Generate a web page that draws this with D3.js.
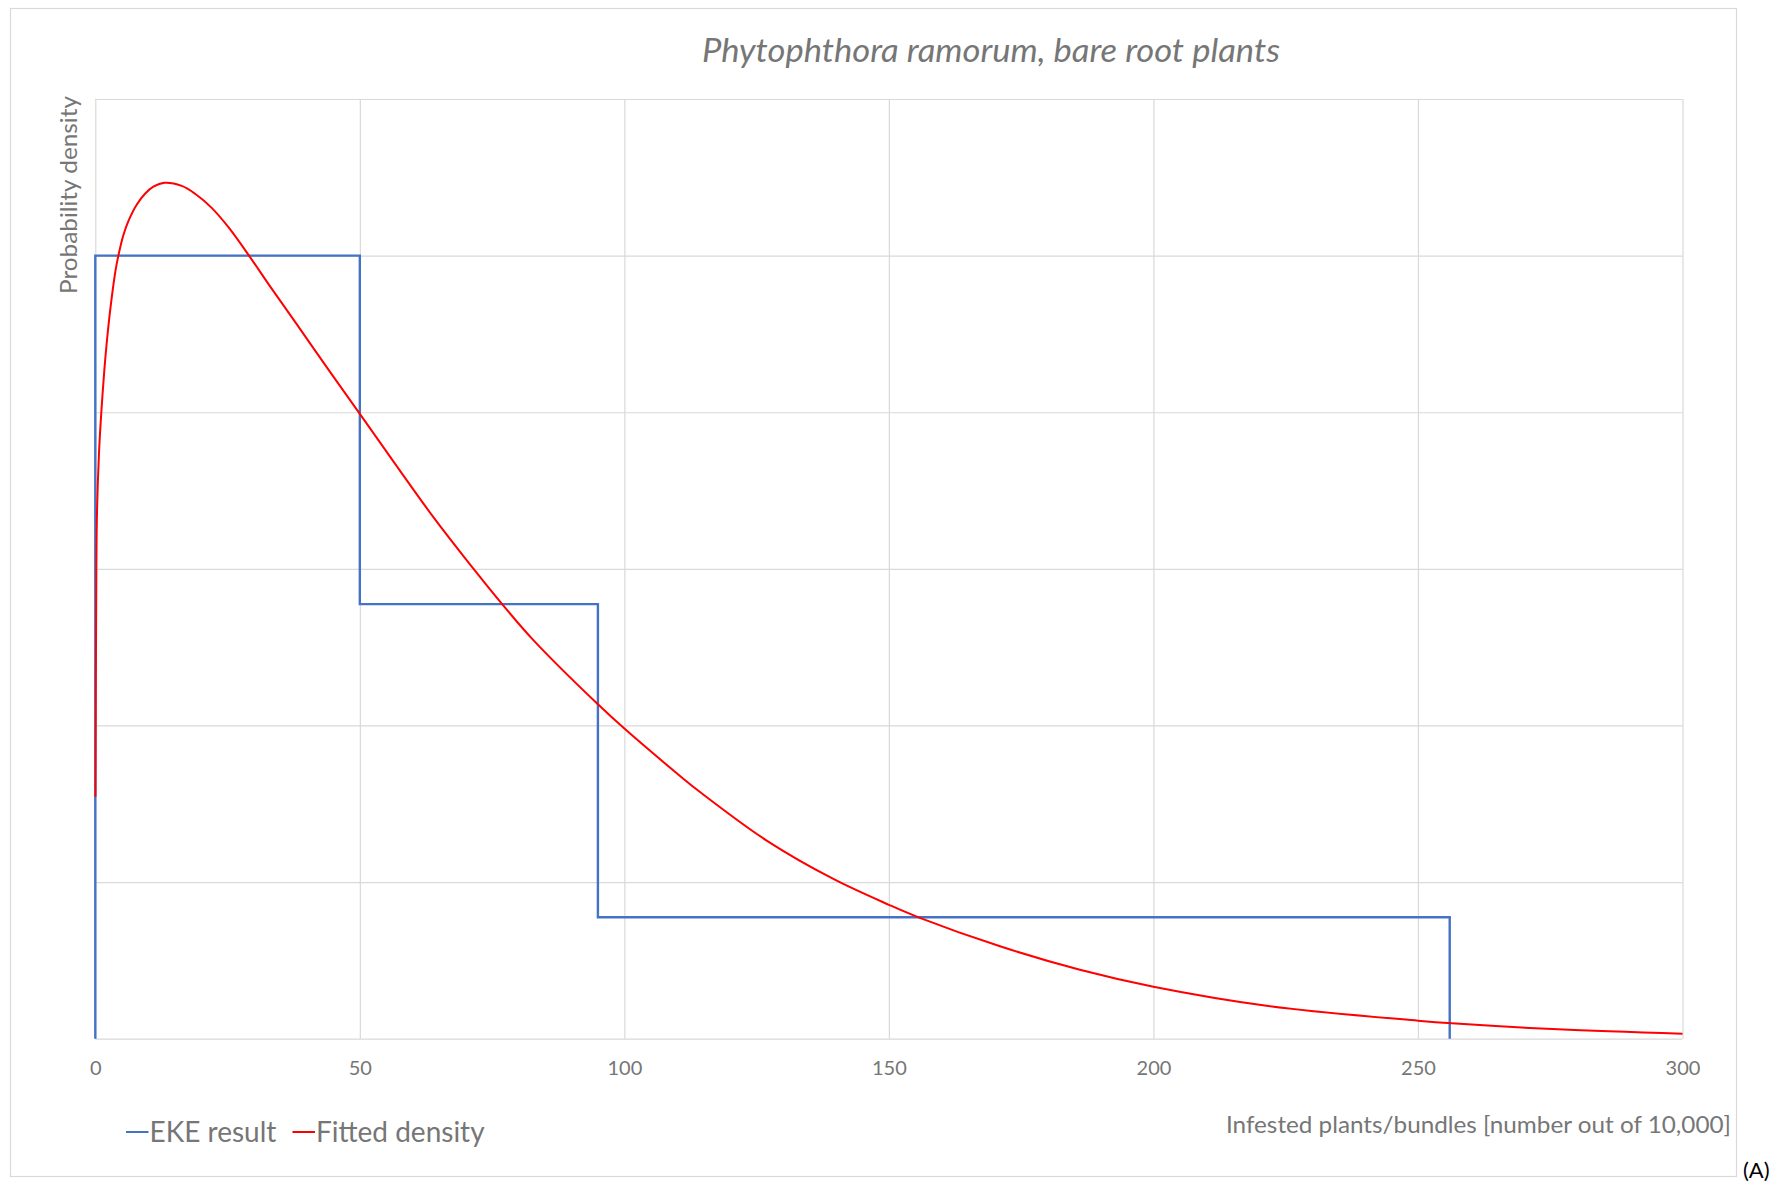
<!DOCTYPE html>
<html>
<head>
<meta charset="utf-8">
<script src="https://cdn.jsdelivr.net/npm/d3@7"></script>
<style>
  body { margin: 0; background: #fff; }
  svg { display: block; font-family: Lato, "Open Sans", sans-serif; }
  .grid line { stroke: #d9d9d9; stroke-width: 1.2; }
  .grid .domain { display: none; }
  .xlab text { fill: #767676; font-size: 20px; }
</style>
</head>
<body>
<div id="chart"></div>
<script>
// EKE result: bin edges and density of each bin
var binEdges = [0, 50, 95, 256];
var binDensity = [0.01, 0.00555, 0.00155];

// fitted density
var fitX = [0.03, 0.2, 0.32, 0.7, 1.08, 1.71, 2.28, 2.97, 3.85, 4.36, 5.3, 6.25, 7.82, 9.4, 10.98, 13.06, 16.34,
  18.86, 22, 25.2, 28.95, 32.7, 37.8, 44.1, 50, 63.9, 71.5, 76.9, 82.8, 95, 100, 110.8, 114.3, 126.9, 139.5, 150,
  155.6, 171, 186.1, 200, 221.7, 250, 256.4, 276.5, 300];
var fitY = [0.00309, 0.0060, 0.00672, 0.00748, 0.00794, 0.00854, 0.00897, 0.00939, 0.00982, 0.0100, 0.01026,
  0.01044, 0.01065, 0.01079, 0.01088, 0.01093, 0.01089, 0.01079, 0.01061, 0.01036, 0.01001, 0.00964, 0.00915,
  0.00854, 0.00798, 0.00666, 0.0060, 0.00555, 0.00509, 0.00427, 0.00396, 0.00334, 0.00315, 0.00253, 0.00204,
  0.00171, 0.00155, 0.00118, 0.00088, 0.000664, 0.000418, 0.00023, 0.000196, 0.00012, 0.000064];

var xTicks = [0, 50, 100, 150, 200, 250, 300];
var yTicks = [0, 0.002, 0.004, 0.006, 0.008, 0.01, 0.012];

var W = 1778, H = 1185;
var margin = { top: 99, left: 95.3, right: W - 1682.5, bottom: H - 1038.7 },
  width = W - margin.left - margin.right,
  height = H - margin.top - margin.bottom;

var svg = d3.select("#chart").append("svg")
  .attr("width", W)
  .attr("height", H);

// outer chart border
svg.append("rect")
  .attr("x", 10.5).attr("y", 8.5)
  .attr("width", 1726).attr("height", 1168)
  .attr("fill", "#fff")
  .attr("stroke", "#d9d9d9")
  .attr("stroke-width", 1.2);

var g = svg.append("g")
  .attr("transform", "translate(" + margin.left + "," + margin.top + ")");

var x = d3.scaleLinear().domain([0, 300]).range([0, width]);
var y = d3.scaleLinear().domain([0, 0.012]).range([height, 0]);

// horizontal grid
g.append("g")
  .attr("class", "grid")
  .call(d3.axisLeft(y).tickValues(yTicks).tickSize(-width).tickFormat(""));

// vertical grid + tick labels
var xa = g.append("g")
  .attr("class", "grid xlab")
  .attr("transform", "translate(0," + height + ")")
  .call(d3.axisBottom(x).tickValues(xTicks).tickSize(-height).tickPadding(22));
xa.selectAll("text").attr("font-family", "Lato, sans-serif");

// EKE step line
var steps = [[binEdges[0], 0]];
for (var i = 0; i < binDensity.length; i++) {
  steps.push([binEdges[i], binDensity[i]]);
  steps.push([binEdges[i + 1], binDensity[i]]);
}
steps.push([binEdges[binEdges.length - 1], 0]);

var line = d3.line()
  .x(function(d) { return x(d[0]); })
  .y(function(d) { return y(d[1]); });

g.append("path")
  .datum(steps)
  .attr("fill", "none")
  .attr("stroke", "#4472c4")
  .attr("stroke-width", 2.4)
  .attr("d", line);

// fitted density
var fit = fitX.map(function(v, i) { return [v, fitY[i]]; });
g.append("path")
  .datum(fit)
  .attr("fill", "none")
  .attr("stroke", "#ff0000")
  .attr("stroke-width", 2)
  .attr("d", line.curve(d3.curveCatmullRom.alpha(0.5)));

// title
svg.append("text")
  .text("Phytophthora ramorum, bare root plants")
  .attr("x", 991).attr("y", 61.5)
  .attr("text-anchor", "middle")
  .attr("font-style", "italic")
  .attr("font-size", 32)
  .attr("fill", "#767676")
  .attr("textLength", 578)
  .attr("lengthAdjust", "spacingAndGlyphs");

// axis titles
svg.append("text")
  .text("Probability density")
  .attr("transform", "translate(77,96) rotate(-90)")
  .attr("text-anchor", "end")
  .attr("font-size", 23)
  .attr("fill", "#767676")
  .attr("textLength", 198)
  .attr("lengthAdjust", "spacingAndGlyphs");

svg.append("text")
  .text("Infested plants/bundles [number out of 10,000]")
  .attr("x", 1731).attr("y", 1133)
  .attr("text-anchor", "end")
  .attr("font-size", 23)
  .attr("fill", "#767676")
  .attr("textLength", 505)
  .attr("lengthAdjust", "spacingAndGlyphs");

// legend
var legend = svg.selectAll(".legend")
  .data([["EKE result", "#4472c4", 126], ["Fitted density", "#ff0000", 292.5]])
  .enter().append("g")
  .attr("class", "legend")
  .attr("transform", function(d) { return "translate(" + d[2] + ",1132)"; });

legend.append("line")
  .attr("x1", 0).attr("x2", 22.5)
  .attr("stroke", function(d) { return d[1]; })
  .attr("stroke-width", 2);

legend.append("text")
  .text(function(d) { return d[0]; })
  .attr("x", 23.5).attr("y", 10)
  .attr("font-size", 28)
  .attr("fill", "#767676");

svg.append("text")
  .text("(A)")
  .attr("x", 1743).attr("y", 1178)
  .attr("font-size", 22)
  .attr("fill", "#000");
</script>
</body>
</html>
